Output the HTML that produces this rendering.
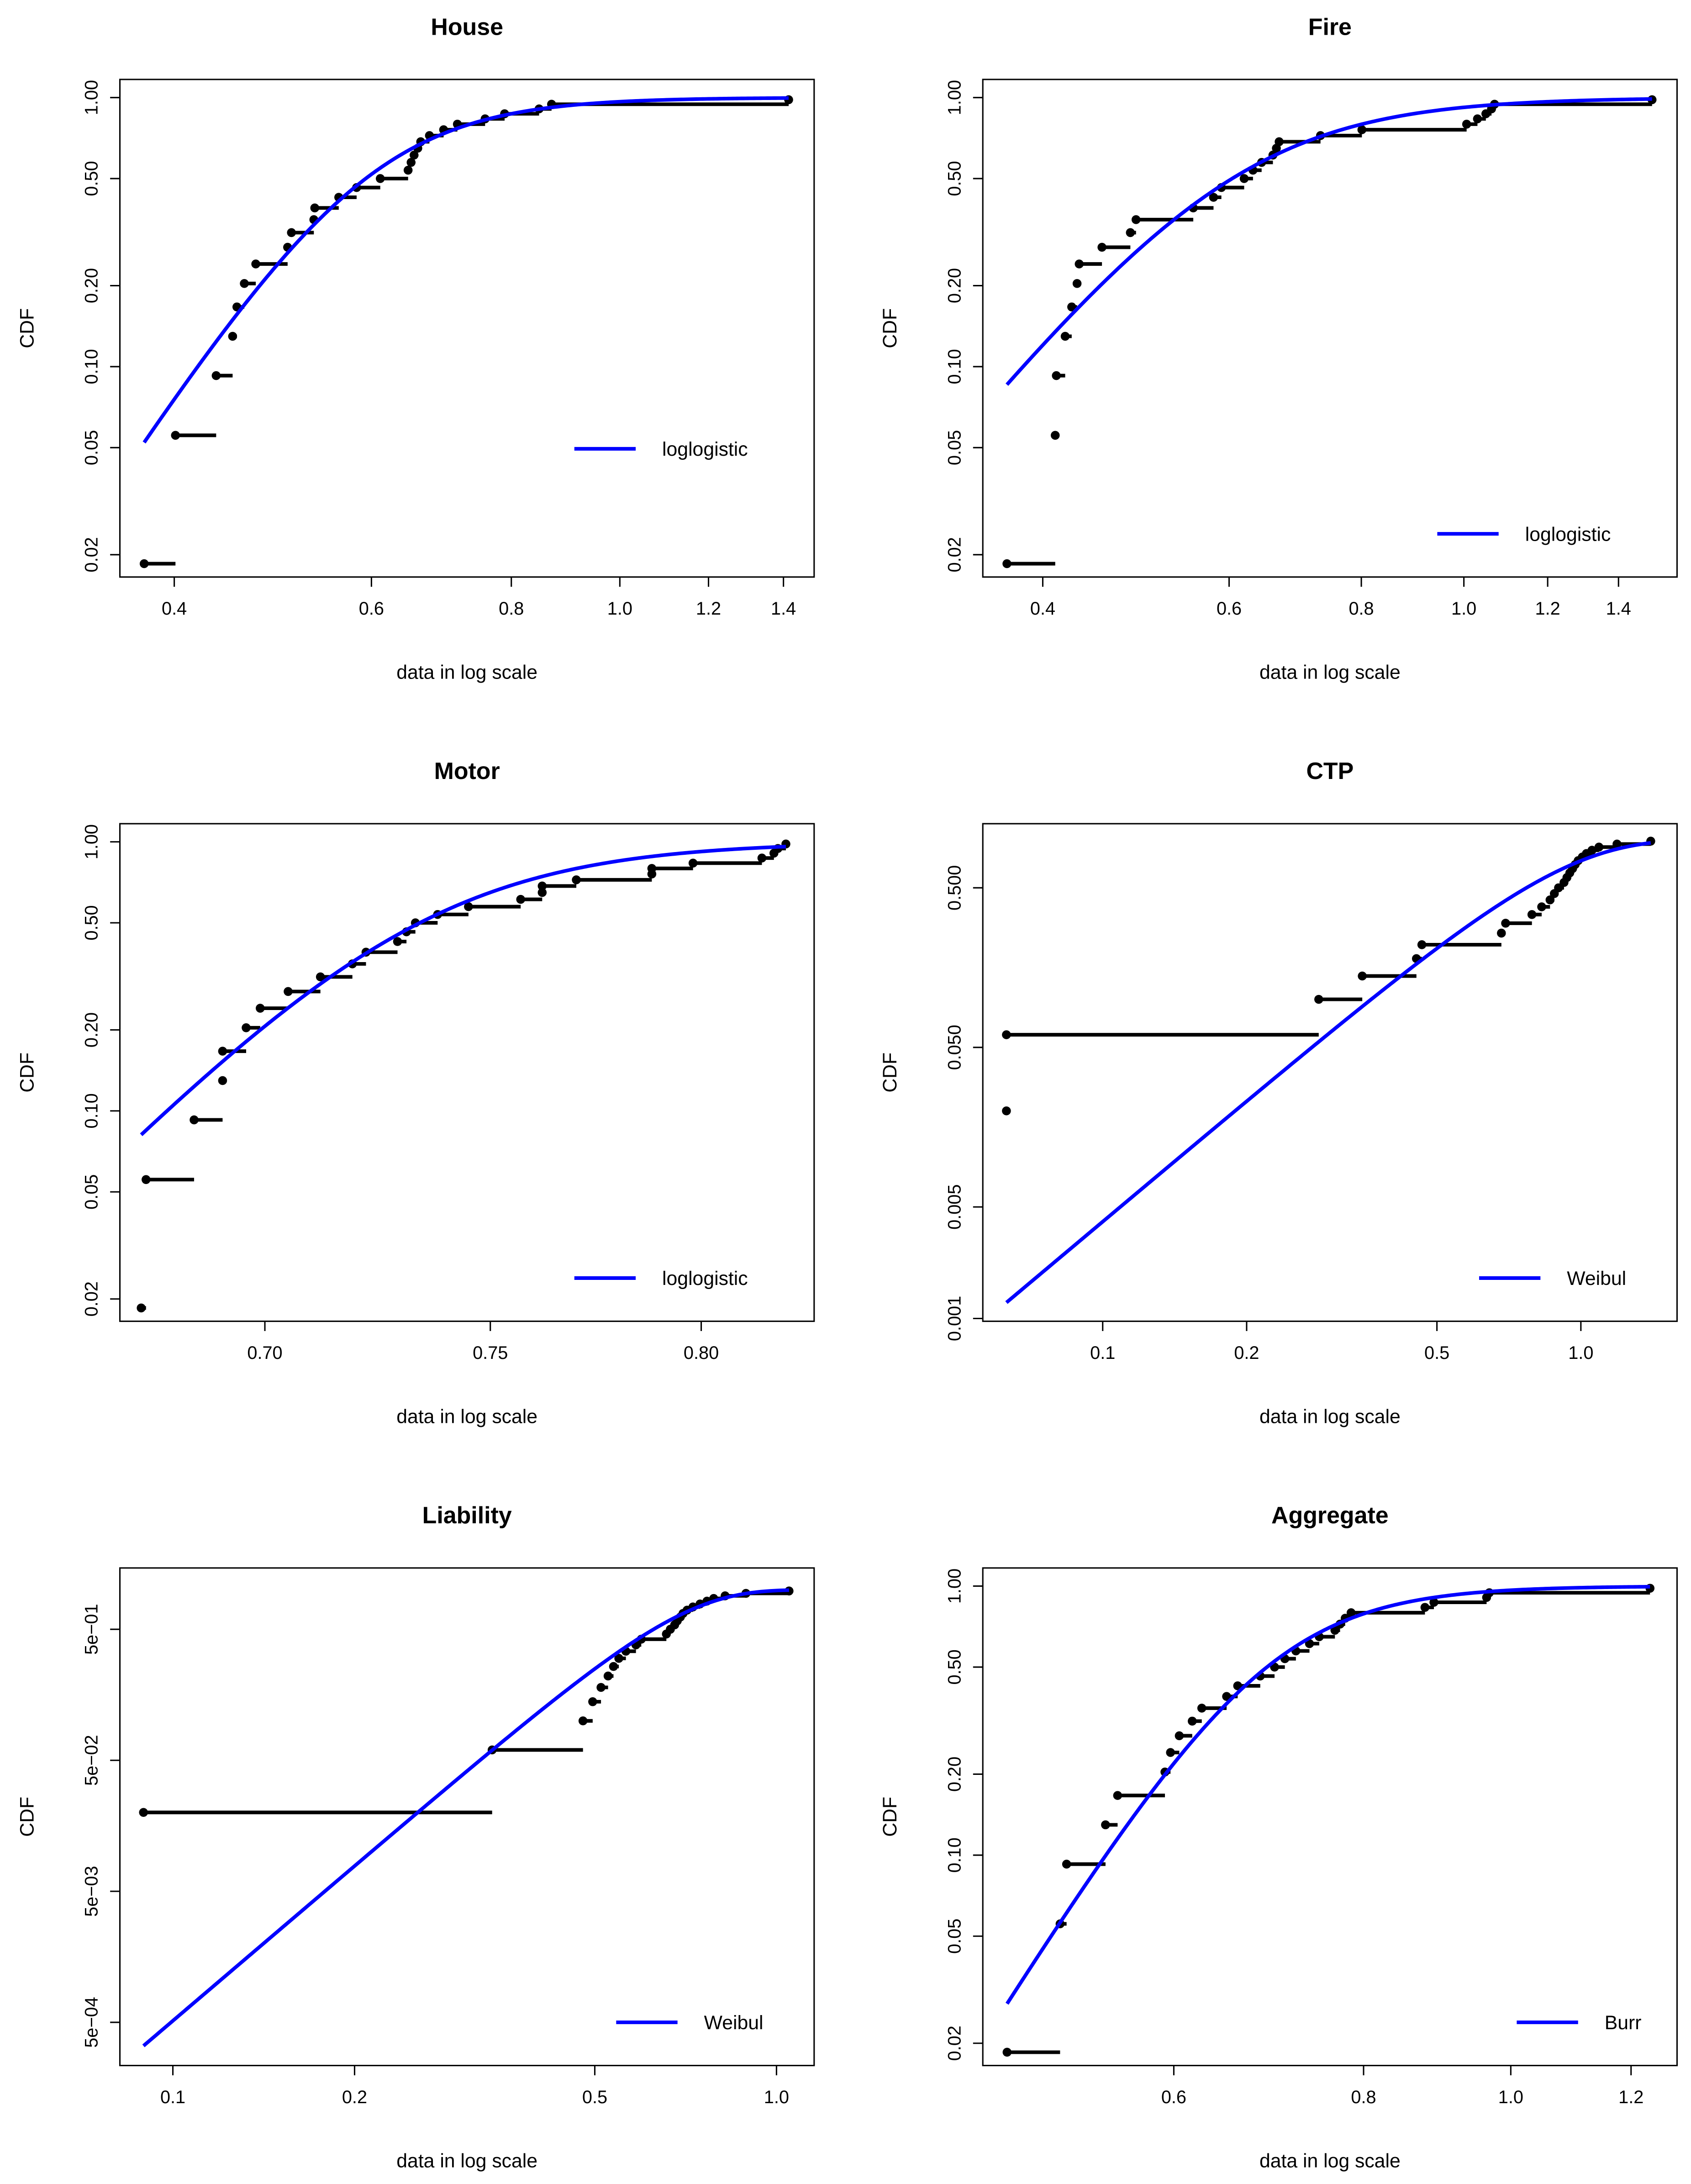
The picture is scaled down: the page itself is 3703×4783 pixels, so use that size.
<!DOCTYPE html>
<html><head><meta charset="utf-8">
<style>html,body{margin:0;padding:0;background:#fff}svg{display:block}</style>
</head><body>
<svg id="chart" width="3703" height="4783" viewBox="0 0 1213 1567" preserveAspectRatio="none" xmlns="http://www.w3.org/2000/svg" font-family="Liberation Sans, Arial, sans-serif">
<rect width="1213" height="1567" fill="#fff"/>
</svg>
<script>
// ---- data (x values of observed points, sorted) ----
const houseX=[0.376,0.401,0.436,0.451,0.455,0.462,0.473,0.505,0.509,0.533,0.534,0.561,0.582,0.611,0.647,0.651,0.655,0.660,0.664,0.676,0.696,0.716,0.758,0.789,0.847,0.869,1.415];
const fireX=[0.370,0.411,0.412,0.420,0.426,0.431,0.433,0.455,0.484,0.490,0.555,0.580,0.590,0.620,0.632,0.644,0.660,0.665,0.669,0.732,0.801,1.006,1.030,1.049,1.062,1.069,1.506];
const motorX=[0.674,0.675,0.685,0.691,0.691,0.696,0.699,0.705,0.712,0.719,0.722,0.729,0.731,0.733,0.738,0.745,0.757,0.762,0.762,0.770,0.788,0.788,0.798,0.815,0.818,0.819,0.821];
const ctpX=[0.0629,0.0629,0.283,0.349,0.453,0.465,0.682,0.696,0.790,0.828,0.862,0.880,0.898,0.922,0.935,0.948,0.961,0.973,0.987,1.007,1.027,1.055,1.091,1.19,1.40];
const liabX=[0.0894,0.338,0.478,0.496,0.512,0.526,0.537,0.548,0.563,0.585,0.597,0.657,0.667,0.678,0.685,0.693,0.700,0.711,0.727,0.747,0.767,0.787,0.822,0.890,1.049];
const aggX=[0.466,0.505,0.510,0.541,0.551,0.592,0.597,0.605,0.617,0.626,0.650,0.661,0.684,0.699,0.710,0.722,0.737,0.748,0.766,0.772,0.778,0.785,0.878,0.890,0.964,0.968,1.235];
// ---- fitted distribution parameters ----
const houseFit=[6.36,0.593];   // loglogistic shape, scale
const fireFit=[4.83,0.604];
const motorFit=[28.4,0.734];
const ctpFit=[2.52,0.89];      // weibull shape, scale
const liabFit=[3.93,0.687];
const aggFit=[9.0,0.691];      // burr approx (loglogistic form)
// ---- tick labels ----
const xTicksHouse=[0.4,0.6,0.8,1.0,1.2,1.4];
const xTicksFire=[0.4,0.6,0.8,1.0,1.2,1.4];
const xTicksMotor=[0.70,0.75,0.80];
const xTicksCtp=[0.1,0.2,0.5,1.0];
const xTicksLiab=[0.1,0.2,0.5,1.0];
const xTicksAgg=[0.6,0.8,1.0,1.2];
const yTicksStd=[1.00,0.50,0.20,0.10,0.05,0.02];
const yLabelsStd=["1.00","0.50","0.20","0.10","0.05","0.02"];
const yTicksCtp=[0.5,0.05,0.005,0.001];
const yLabelsCtp=["0.500","0.050","0.005","0.001"];
const yTicksLiab=[0.5,0.05,0.005,0.0005];
const yLabelsLiab=["5e\u221201","5e\u221202","5e\u221203","5e\u221204"];

const NS="http://www.w3.org/2000/svg";
const svg=document.getElementById('chart');
function mk(tag,attrs,parent){const e=document.createElementNS(NS,tag);for(const k in attrs)e.setAttribute(k,attrs[k]);(parent||svg).appendChild(e);return e;}
const loglog=(p)=>x=>{const t=Math.pow(x/p[1],p[0]);return t/(1+t);};
const weib=(p)=>x=>1-Math.exp(-Math.pow(x/p[1],p[0]));

const panels=[
 {id:'house',title:'House',bx:86,by:57,xs:houseX,fit:loglog(houseFit),leg:'loglogistic',lx:412,ly:322,
  xa:[0.4,125],xb:[1.4,562],ya:[1,70],yb:[0.02,398],xt:xTicksHouse,xl:v=>v.toFixed(1),yt:yTicksStd,yl:yLabelsStd},
 {id:'fire',title:'Fire',bx:705,by:57,xs:fireX,fit:loglog(fireFit),leg:'loglogistic',lx:1031,ly:383,
  xa:[0.4,748],xb:[1.4,1161],ya:[1,70],yb:[0.02,398],xt:xTicksFire,xl:v=>v.toFixed(1),yt:yTicksStd,yl:yLabelsStd},
 {id:'motor',title:'Motor',bx:86,by:591,xs:motorX,fit:loglog(motorFit),leg:'loglogistic',lx:412,ly:917,
  xa:[0.7,190],xb:[0.8,503],ya:[1,604],yb:[0.02,932],xt:xTicksMotor,xl:v=>v.toFixed(2),yt:yTicksStd,yl:yLabelsStd},
 {id:'ctp',title:'CTP',bx:705,by:591,xs:ctpX,fit:weib(ctpFit),leg:'Weibul',lx:1061,ly:917,
  xa:[0.1,791],xb:[1.0,1134],ya:[0.5,637],yb:[0.001,946],xt:xTicksCtp,xl:v=>v.toFixed(1),yt:yTicksCtp,yl:yLabelsCtp},
 {id:'liability',title:'Liability',bx:86,by:1125,xs:liabX,fit:weib(liabFit),leg:'Weibul',lx:442,ly:1451,
  xa:[0.1,124],xb:[1.0,557],ya:[0.5,1169],yb:[0.0005,1451],xt:xTicksLiab,xl:v=>v.toFixed(1),yt:yTicksLiab,yl:yLabelsLiab},
 {id:'aggregate',title:'Aggregate',bx:705,by:1125,xs:aggX,fit:loglog(aggFit),leg:'Burr',lx:1088,ly:1451,
  xa:[0.6,842],xb:[1.2,1170],ya:[1,1138],yb:[0.02,1466],xt:xTicksAgg,xl:v=>v.toFixed(1),yt:yTicksStd,yl:yLabelsStd},
];
const W=498,H=357;
panels.forEach(p=>{
  const g=mk('g',{});
  
  
  const kx=(p.xb[1]-p.xa[1])/Math.log(p.xb[0]/p.xa[0]);
  const ky=(p.yb[1]-p.ya[1])/Math.log(p.yb[0]/p.ya[0]);
  const X=v=>p.xa[1]+Math.log(v/p.xa[0])*kx;
  const Y=v=>p.ya[1]+Math.log(v/p.ya[0])*ky;
  const cx=p.bx+W/2;
  const t=mk('text',{x:cx,y:p.by-32,'text-anchor':'middle','font-size':17,'font-weight':'bold'},g);
  t.textContent=p.title;
  
  
  const xl=mk('text',{x:cx,y:p.by+430,'text-anchor':'middle','font-size':14},g);
  xl.textContent='data in log scale';
  
  
  const cy=p.by+H/2;
  const yl=mk('text',{x:24,y:cy,'text-anchor':'middle','font-size':14,transform:`rotate(-90 ${p.bx-62} ${cy})`},g);
  yl.setAttribute('x',p.bx-62);
  yl.textContent='CDF';
  
  
  // x ticks
  const xax=mk('g',{},g);
  
  
  p.xt.forEach(v=>{const x=X(v);
    mk('line',{x1:x,x2:x,y1:p.by+H,y2:p.by+H+7,stroke:'#000','stroke-width':1},xax);
    const tx=mk('text',{x:x,y:p.by+H+27,'text-anchor':'middle','font-size':13},xax);tx.textContent=p.xl(v);});
  const yax=mk('g',{},g);
  
  
  p.yt.forEach((v,i)=>{const y=Y(v);
    mk('line',{x1:p.bx-7,x2:p.bx,y1:y,y2:y,stroke:'#000','stroke-width':1},yax);
    const tx=mk('text',{x:p.bx-16,y:y,'text-anchor':'middle','font-size':13,transform:`rotate(-90 ${p.bx-16} ${y})`},yax);tx.textContent=p.yl[i];});
  // ECDF
  const n=p.xs.length;
  const ec=mk('g',{},g);
  
  
  p.xs.forEach((v,i)=>{
    const yv=(i+0.5)/n, y=Y(yv), x=X(v);
    if(i<n-1){const s=mk('line',{x1:x,x2:X(p.xs[i+1]),y1:y,y2:y,stroke:'#000','stroke-width':2.6},ec);
      
      }
    const c=mk('circle',{cx:x,cy:y,r:3.2,fill:'#000'},ec);
    
    
  });
  // fitted curve
  const x0=p.xs[0],x1=p.xs[n-1];let d='';
  for(let k=0;k<=300;k++){const v=x0*Math.pow(x1/x0,k/300);d+=(k?'L':'M')+X(v).toFixed(2)+' '+Y(p.fit(v)).toFixed(2);}
  const cv=mk('path',{d:d,fill:'none',stroke:'#0000FF','stroke-width':2.6},g);
  
  
  // legend
  const lg=mk('g',{},g);
  
  
  mk('line',{x1:p.lx,x2:p.lx+44,y1:p.ly,y2:p.ly,stroke:'#0000FF','stroke-width':2.6},lg);
  const lt=mk('text',{x:p.lx+63,y:p.ly+5,'font-size':14},lg);lt.textContent=p.leg;
  // box
  const b=mk('rect',{x:p.bx,y:p.by,width:W,height:H,fill:'none',stroke:'#000','stroke-width':1},g);
  
  
});
</script>
</body></html>
